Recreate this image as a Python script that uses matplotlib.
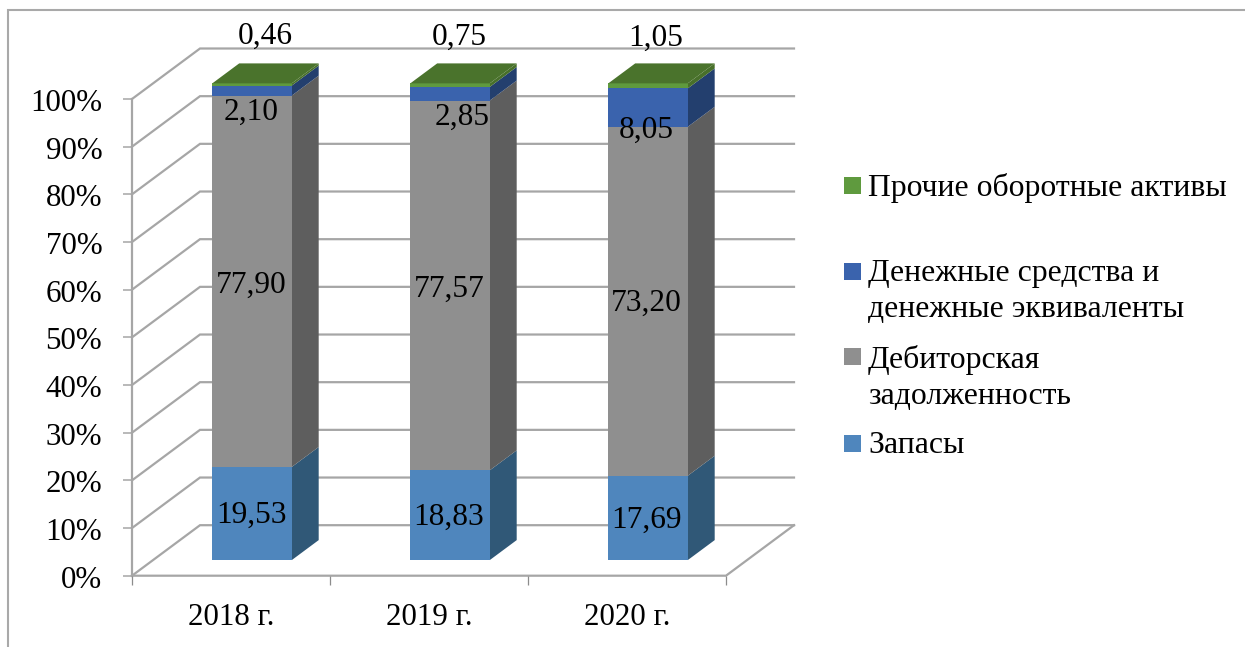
import matplotlib
matplotlib.use("Agg")
import matplotlib.pyplot as plt
from matplotlib.patches import Rectangle
from matplotlib.lines import Line2D
from matplotlib.transforms import ScaledTranslation
import numpy as np

W, H = 1245, 647
plt.rcParams['font.family'] = ['Liberation Serif', 'DejaVu Serif']

categories = ['2018 г.', '2019 г.', '2020 г.']
zapasy = [19.53, 18.83, 17.69]
debitor = [77.90, 77.57, 73.20]
dengi = [2.10, 2.85, 8.05]
prochie = [0.46, 0.75, 1.05]
series = [zapasy, debitor, dengi, prochie]
y_ticks = list(range(0, 101, 10))

front_colors = ['#4f86bd', '#8f8f8f', '#3a63ad', '#5f9a3e']
side_colors = ['#305877', '#5e5e5e', '#233f6e', '#48702a']
top_color = '#4a732c'
grid_color = '#a6a6a6'

# label nudges in pixels, one (dx, dy) per series and category
label_nudge = [
    [(-1, -2), (-1, -2), (-2, -2)],
    [(-1, -4), (-1, -4), (-2, -2)],
    [(-1, -22), (12, -24), (-2, -23)],
    [(13, 48), (9, 48), (8, 48)],
]

legend_entries = [
    ('Прочие оборотные активы', '#5f9a3e', 185),
    ('Денежные средства и\nденежные эквиваленты', '#3a63ad', 271),
    ('Дебиторская\nзадолженность', '#8f8f8f', 357),
    ('Запасы', '#4f86bd', 443),
]

fig = plt.figure(figsize=(W / 100, H / 100), dpi=100)
X0, X1, Y100, Y0 = 132, 726, 99, 575.7
ax = fig.add_axes([X0 / W, 1 - Y0 / H, (X1 - X0) / W, (Y0 - Y100) / H])
ax.set_xlim(0, 3)
ax.set_ylim(0, 100)
for s in ax.spines.values():
    s.set_visible(False)
ax.patch.set_alpha(0)

# oblique projection: full chart depth expressed in data units
DX = 68 / ((X1 - X0) / 3)
DY = 50.5 / ((Y0 - Y100) / 100)


def proj(x, y, d):
    return x + d * DX, y + d * DY


lw = 1.6
for v in y_ticks:
    a = proj(0, v, 0)
    b = proj(0, v, 1)
    c = proj(3, v, 1)
    ax.plot([a[0], b[0], c[0]], [a[1], b[1], c[1]], color=grid_color, lw=lw,
            clip_on=False, zorder=1, solid_joinstyle='miter')
# floor
f1, f2 = proj(3, 0, 0), proj(3, 0, 1)
ax.plot([0, 3, f2[0]], [0, 0, f2[1]], color=grid_color, lw=lw, clip_on=False, zorder=1)
ax.plot([0, 0], [0, 100], color=grid_color, lw=lw, clip_on=False, zorder=1)

ax.set_yticks(y_ticks)
ax.set_yticklabels([f'{v}%' for v in y_ticks], fontsize=22.3)
ax.tick_params(axis='y', length=6.5, width=1.1, color=grid_color, pad=15)
shift = ScaledTranslation(0, -1.0 / 100, fig.dpi_scale_trans)
for lab in ax.get_yticklabels():
    lab.set_transform(lab.get_transform() + shift)
ax.set_xticks([0.5, 1.5, 2.5])
ax.set_xticklabels(categories, fontsize=22.3)
ax.set_xticks([0, 1, 2, 3], minor=True)
ax.tick_params(axis='x', which='major', length=0, pad=20)
ax.tick_params(axis='x', which='minor', length=6.5, width=0.9, color='#8c8c8c')

BAR_W = 79.5 / ((X1 - X0) / 3)
D_FRONT, D_BACK = 0.31, 0.705

for i in range(len(categories)):
    xl = i + 0.5 - BAR_W / 2
    xr = i + 0.5 + BAR_W / 2
    base = 0.0
    total = sum(s[i] for s in series)
    for j, s in enumerate(series):
        top = base + s[i] / total * 100
        # side face
        pts = [proj(xr, base, D_FRONT), proj(xr, top, D_FRONT),
               proj(xr, top, D_BACK), proj(xr, base, D_BACK)]
        ax.fill(*zip(*pts), facecolor=side_colors[j], edgecolor='none', clip_on=False, zorder=3)
        # front face
        pts = [proj(xl, base, D_FRONT), proj(xr, base, D_FRONT),
               proj(xr, top, D_FRONT), proj(xl, top, D_FRONT)]
        ax.fill(*zip(*pts), facecolor=front_colors[j], edgecolor='none', clip_on=False, zorder=4)
        # label
        cx, cy = proj(i + 0.5, (base + top) / 2, D_FRONT)
        nx, ny = label_nudge[j][i]
        ax.annotate(f'{s[i]:.2f}'.replace('.', ','), xy=(cx, cy), xytext=(nx, ny),
                    textcoords='offset pixels', ha='center', va='center',
                    fontsize=22.6, color='black', zorder=6, annotation_clip=False)
        base = top
    # top face
    pts = [proj(xl, 100, D_FRONT), proj(xr, 100, D_FRONT),
           proj(xr, 100, D_BACK), proj(xl, 100, D_BACK)]
    ax.fill(*zip(*pts), facecolor=top_color, edgecolor='none', clip_on=False, zorder=5)

# legend
for label, color, yc in legend_entries:
    fig.add_artist(Rectangle((844 / W, 1 - (yc + 8.5) / H), 17 / W, 17 / H,
                             transform=fig.transFigure, facecolor=color, edgecolor='none'))
    fig.text(868 / W, 1 - (yc - 12) / H, label, fontsize=22.9, va='top', ha='left',
             linespacing=1.34, color='black')

# outer frame
fig.add_artist(Line2D([8 / W, 8 / W, 1], [0, 1 - 10 / H, 1 - 10 / H], transform=fig.transFigure,
                      color='#a9a9a9', lw=1.5, solid_joinstyle='miter'))

fig.savefig('out.png', dpi=100)
